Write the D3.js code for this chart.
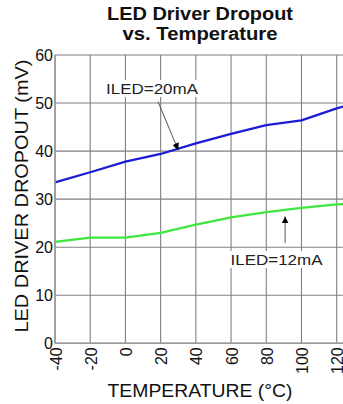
<!DOCTYPE html>
<html><head><meta charset="utf-8">
<script src="https://cdn.jsdelivr.net/npm/d3@7"></script>
<style>body{margin:0;background:#fff;overflow:hidden}svg{display:block}</style>
</head><body>
<script>
const temps = [-40, -20, 0, 20, 40, 60, 80, 100, 120, 125];
const iled20 = [33.5, 35.6, 37.8, 39.4, 41.6, 43.6, 45.4, 46.4, 48.9, 49.4];
const iled12 = [21.1, 22.0, 22.0, 23.0, 24.7, 26.2, 27.3, 28.2, 28.9, 29.0];
const xTicks = [-40, -20, 0, 20, 40, 60, 80, 100, 120];
const xGrid = [-40, -20, 0, 20, 40, 60, 80, 100, 120, 140];
const yTicks = [0, 10, 20, 30, 40, 50, 60];
const notes = [
  {label: "ILED=20mA", tx: 15.1, ty: 51.9, x1: 18.5, y1: 50.3, x2: 30, y2: 40.2},
  {label: "ILED=12mA", tx: 85.8, ty: 16.3, x1: 90.7, y1: 20.9, x2: 90.7, y2: 26.4}
];

const W = 343, H = 404;
const svg = d3.select("body").append("svg").attr("width", W).attr("height", H)
  .style("font-family", "Arial, 'Liberation Sans', sans-serif");

const x = d3.scaleLinear().domain([-40, 120]).range([55, 336.7]);
const y = d3.scaleLinear().domain([0, 60]).range([343.3, 55]);

svg.append("defs").append("marker").attr("id", "ah")
  .attr("viewBox", "0 0 10 10").attr("refX", 10).attr("refY", 5)
  .attr("markerWidth", 7).attr("markerHeight", 7).attr("markerUnits", "userSpaceOnUse")
  .attr("orient", "auto")
  .append("path").attr("d", "M0,0 L10,5 L0,10 Z").attr("fill", "#000");

// grid
const g = svg.append("g");
g.selectAll(".vg").data(xGrid).join("line")
  .attr("x1", d => x(d)).attr("x2", d => x(d))
  .attr("y1", y(60)).attr("y2", y(0))
  .attr("stroke", "#808080").attr("stroke-width", 1.1);
g.selectAll(".hg").data(yTicks).join("line")
  .attr("x1", x(-40)).attr("x2", x(140))
  .attr("y1", d => y(d)).attr("y2", d => y(d))
  .attr("stroke", "#808080").attr("stroke-width", 1.1);

// lines
const line = d3.line().x((d, i) => x(temps[i])).y(d => y(d));
svg.append("path").datum(iled20).attr("d", line)
  .attr("fill", "none").attr("stroke", "#1c1cd6").attr("stroke-width", 2.3)
  .attr("stroke-linejoin", "round");
svg.append("path").datum(iled12).attr("d", line)
  .attr("fill", "none").attr("stroke", "#3fe83f").attr("stroke-width", 2.3)
  .attr("stroke-linejoin", "round");

// annotations
notes.forEach(n => {
  const t = svg.append("text").attr("x", x(n.tx)).attr("y", y(n.ty))
    .attr("text-anchor", "middle").attr("font-size", 15.5).attr("fill", "#222")
    .attr("textLength", 92).attr("lengthAdjust", "spacingAndGlyphs")
    .text(n.label);
  const bb = t.node().getBBox();
  svg.insert("rect", () => t.node())
    .attr("x", bb.x - 2).attr("y", bb.y).attr("width", bb.width + 4).attr("height", bb.height)
    .attr("fill", "#fff");
  svg.append("line").attr("x1", x(n.x1)).attr("y1", y(n.y1))
    .attr("x2", x(n.x2)).attr("y2", y(n.y2))
    .attr("stroke", "#555").attr("stroke-width", 1)
    .attr("marker-end", "url(#ah)");
});

// axes
const xa = svg.append("g").attr("transform", `translate(0,${y(0)})`)
  .call(d3.axisBottom(x).tickValues(xTicks).tickFormat(d => String(d)).tickSize(0).tickPadding(0));
xa.select(".domain").remove();
xa.selectAll("text")
  .attr("font-size", 16).attr("fill", "#111").attr("font-family", null)
  .attr("text-anchor", "end").attr("dy", null).attr("x", 0).attr("y", 0)
  .attr("transform", "translate(6,4) rotate(-90)");

const ya = svg.append("g").attr("transform", `translate(${x(-40)},0)`)
  .call(d3.axisLeft(y).tickValues(yTicks).tickFormat(d => String(d)).tickSize(0).tickPadding(2));
ya.select(".domain").remove();
ya.selectAll("text").attr("font-size", 16).attr("fill", "#111").attr("font-family", null);

// border axes lines
svg.append("line").attr("x1", x(-40)).attr("x2", x(-40)).attr("y1", y(60)).attr("y2", y(0))
  .attr("stroke", "#9a9a9a").attr("stroke-width", 1.5);
svg.append("line").attr("x1", x(-40)).attr("x2", x(140)).attr("y1", y(0)).attr("y2", y(0))
  .attr("stroke", "#9a9a9a").attr("stroke-width", 1.5);

// titles
svg.append("text").attr("x", 200).attr("y", 20).attr("text-anchor", "middle")
  .attr("font-size", 18).attr("font-weight", "bold").attr("fill", "#111")
  .attr("textLength", 186).attr("lengthAdjust", "spacingAndGlyphs")
  .text("LED Driver Dropout");
svg.append("text").attr("x", 200).attr("y", 40).attr("text-anchor", "middle")
  .attr("font-size", 18).attr("font-weight", "bold").attr("fill", "#111")
  .attr("textLength", 155).attr("lengthAdjust", "spacingAndGlyphs")
  .text("vs. Temperature");
svg.append("text").attr("x", 200).attr("y", 397).attr("text-anchor", "middle")
  .attr("font-size", 18).attr("fill", "#111")
  .attr("textLength", 185).attr("lengthAdjust", "spacingAndGlyphs")
  .text("TEMPERATURE (°C)");
svg.append("text").attr("transform", "translate(28,196) rotate(-90)").attr("text-anchor", "middle")
  .attr("font-size", 18).attr("fill", "#111")
  .attr("textLength", 273).attr("lengthAdjust", "spacingAndGlyphs")
  .text("LED DRIVER DROPOUT (mV)");
</script>
</body></html>
